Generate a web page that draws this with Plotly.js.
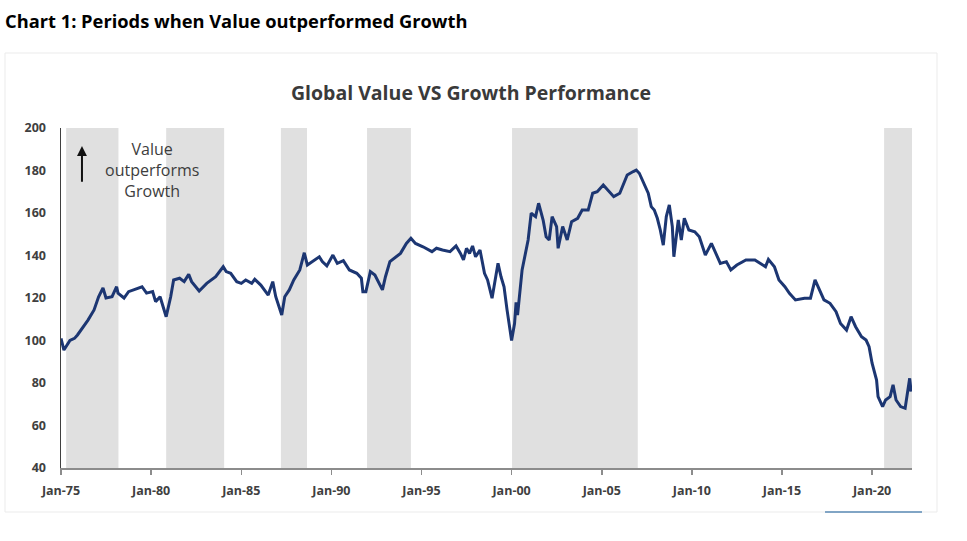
<!DOCTYPE html>
<html>
<head>
<meta charset="utf-8">
<script src="https://cdn.plot.ly/plotly-3.0.1.min.js"></script>
<style>
html,body{margin:0;padding:0;background:#fff;}
#chart{width:967px;height:541px;}
</style>
</head>
<body>
<div id="chart"></div>
<script>
// Monthly readings of the Global Value vs Growth relative index
var dates = [
"1975-01","1975-03","1975-07","1975-10","1975-12","1976-07","1976-11","1977-02","1977-05","1977-07",
"1977-11","1978-02","1978-03","1978-07","1978-10","1979-03","1979-07","1979-10","1980-02","1980-04",
"1980-07","1980-11","1981-02","1981-04","1981-08","1981-11","1982-02","1982-04","1982-09","1983-02",
"1983-05","1983-08","1984-01","1984-03","1984-06","1984-10","1985-01","1985-04","1985-08","1985-10",
"1986-02","1986-07","1986-10","1986-12","1987-04","1987-06","1987-09","1987-12","1988-04","1988-07",
"1988-09","1989-02","1989-05","1989-07","1989-10","1990-02","1990-05","1990-09","1991-01","1991-06",
"1991-09","1991-10","1991-12","1992-03","1992-06","1992-11","1993-01","1993-04","1993-08","1993-11",
"1994-03","1994-06","1994-09","1995-02","1995-08","1995-11","1996-03","1996-08","1996-12","1997-03",
"1997-05","1997-07","1997-09","1997-11","1998-01","1998-04","1998-07","1998-09","1998-12","1999-03",
"1999-04","1999-06","1999-08","1999-10","2000-01","2000-03","2000-04","2000-05","2000-07","2000-08",
"2000-12","2001-02","2001-05","2001-07","2001-10","2001-12","2002-02","2002-04","2002-07","2002-08",
"2002-11","2003-02","2003-05","2003-09","2003-12","2004-04","2004-07","2004-10","2005-02","2005-05",
"2005-09","2006-01","2006-04","2006-06","2006-10","2006-12","2007-02","2007-05","2007-08","2007-10",
"2007-12","2008-02","2008-04","2008-06","2008-08","2008-10","2008-12","2009-01","2009-04","2009-06",
"2009-08","2009-11","2010-03","2010-06","2010-10","2011-02","2011-05","2011-08","2011-12","2012-03",
"2012-07","2013-01","2013-07","2013-11","2014-02","2014-04","2014-08","2014-11","2015-03","2015-06",
"2015-10","2016-04","2016-08","2016-11","2017-02","2017-05","2017-09","2018-01","2018-04","2018-08",
"2018-11","2019-02","2019-06","2019-09","2019-11","2020-01","2020-04","2020-05","2020-08","2020-10",
"2021-01","2021-03","2021-05","2021-08","2021-11","2022-01","2022-02","2022-03"
];
var values = [
101,95.5,100,101,102.6,109.6,114.4,120.6,124.7,120,
120.6,125.3,122.3,120,123,124.2,125.3,122.3,123,118.3,
120.6,111.2,120.6,128.5,129.3,127.7,131.1,127.7,123.3,126.9,
128.5,130,134.7,132.4,131.6,127.7,126.9,128.5,126.9,128.8,
126.1,121.4,127.7,120.6,112,120.6,123.8,128.5,133.2,141.3,
135.5,137.9,139.4,137.1,135.1,140.2,136.3,137.6,133.2,131.6,
129.3,123,123,132.4,130.8,123.8,130,137.1,139.4,141,
145.7,148.1,145.7,144.1,141.8,143.4,142.6,141.8,144.5,141,
137.9,143.4,141,144.5,139.4,142.6,131.6,128.5,119.9,133.2,
136.3,130,125.3,114.4,100,108,118,112,125,133.2,
147.3,159.9,158.3,164.6,156.7,148.8,147.3,158.3,153.6,143.4,
153.6,147.3,155.9,157.5,161.4,161.4,169.3,170,173.2,170.8,
167.7,169.3,174,177.9,179.5,180.2,178.7,174,169.3,163,
161.4,157.5,152,144.9,158.3,163.8,153.6,139.4,156.7,147.3,
157.5,152,151.2,148.8,140.2,145.7,141,136.3,137.1,133.2,
135.5,137.9,137.9,136.3,134.7,138.2,134.7,128.5,125.3,122.2,
119.1,119.9,119.9,128.5,123.8,119.1,117.5,113.6,108,104.9,
111.2,106.5,101.8,100.2,97.1,89.3,81.4,73.6,68.9,72,
73.6,79.1,72,68.9,68.1,76.7,82.2,76
];
// Periods when Value outperformed Growth (shaded)
var shadeStart = ["1975-04-15","1980-11-01","1987-03-15","1991-12-25","2000-01-10","2020-09-01"];
var shadeEnd   = ["1978-03-10","1984-01-20","1988-08-25","1994-06-01","2007-01-01","2022-03-20"];
var yTickVals = [40,60,80,100,120,140,160,180,200];

var shapes = [];
for (var i = 0; i < shadeStart.length; i++) {
  shapes.push({type:'rect', xref:'x', yref:'y', x0:shadeStart[i], x1:shadeEnd[i], y0:40, y1:200,
    fillcolor:'#e0e0e0', line:{width:0}, layer:'below'});
}
// outer chart frame
shapes.push({type:'rect', xref:'paper', yref:'paper', x0:-0.0658, x1:1.0294, y0:-0.1294, y1:1.2206,
  line:{color:'#ebebeb', width:1}, fillcolor:'rgba(0,0,0,0)', layer:'below'});
shapes.push({type:'line', xref:'paper', yref:'paper', x0:0.8978, x1:1.0118, y0:-0.1294, y1:-0.1294,
  line:{color:'#5a8ab5', width:1.5}});

var trace = {
  x: dates, y: values, type:'scatter', mode:'lines',
  line:{color:'#1c3672', width:3}, hoverinfo:'x+y'
};

var layout = {
  width:967, height:541,
  margin:{l:61, r:55, t:128, b:73},
  paper_bgcolor:'#ffffff', plot_bgcolor:'rgba(0,0,0,0)',
  showlegend:false,
  font:{family:'Open Sans, sans-serif', color:'#404040'},
  title:{text:'Global Value VS Growth Performance', xref:'container', yref:'container',
    x:0.487, y:1-93/541, xanchor:'center', yanchor:'middle',
    font:{size:19.5, weight:'bold', color:'#3a3a3a', family:'Open Sans, sans-serif'}},
  xaxis:{
    type:'date', range:['1975-01-01','2022-03-20'],
    tick0:'1975-01-01', dtick:'M60', tickformat:'%b-%y',
    showgrid:false, zeroline:false,
    showline:true, linecolor:'#8c8c8c', linewidth:1.5,
    ticks:'outside', ticklen:5, tickcolor:'#8c8c8c', tickwidth:1.5,
    ticklabelstandoff:5,
    tickfont:{size:12.5, weight:'bold', color:'#404040'},
    fixedrange:true
  },
  yaxis:{
    range:[40,200], tickvals:yTickVals, ticktext:yTickVals.map(String),
    showgrid:false, zeroline:false,
    showline:true, linecolor:'#404040', linewidth:1.5,
    ticks:'', ticklabelstandoff:11,
    tickfont:{size:12.5, weight:'bold', color:'#404040'},
    fixedrange:true
  },
  shapes: shapes,
  annotations:[
    {text:'Chart 1: Periods when Value outperformed Growth', xref:'paper', yref:'paper',
      x:-0.0682, y:1.3176, xanchor:'left', yanchor:'middle', showarrow:false,
      font:{size:18.3, weight:'bold', color:'#000000', family:'Open Sans, sans-serif'}},
    {text:'Value<br>outperforms<br>Growth', xref:'x', yref:'y', x:'1980-01-15', y:180.2,
      xanchor:'center', yanchor:'middle', showarrow:false,
      font:{size:16, color:'#3d3d3d', family:'Open Sans, sans-serif'}},
    {text:'', xref:'x', yref:'y', x:'1976-03-01', y:191.5, axref:'x', ayref:'y',
      ax:'1976-03-01', ay:174, showarrow:true, arrowhead:2, arrowsize:1, arrowwidth:2,
      arrowcolor:'#111111', standoff:0, startstandoff:0}
  ]
};

Plotly.newPlot('chart', [trace], layout, {displayModeBar:false, staticPlot:true});
</script>
</body>
</html>
